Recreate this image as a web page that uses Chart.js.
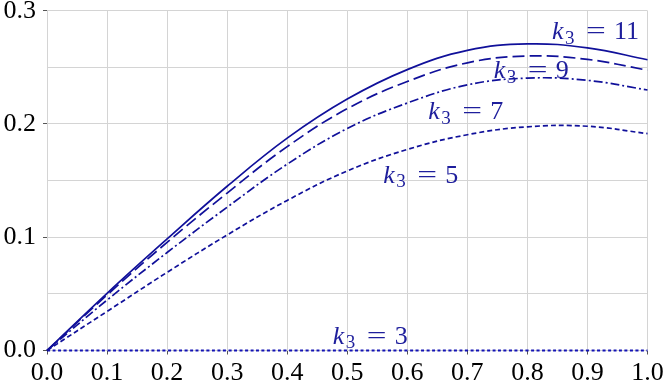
<!DOCTYPE html>
<html>
<head>
<meta charset="utf-8">
<script src="https://cdn.jsdelivr.net/npm/chart.js@4"></script>
<style>
  html, body { margin: 0; padding: 0; background: #fff; }
  canvas { display: block; }
</style>
</head>
<body>
<canvas id="grafica" width="664" height="384"></canvas>
<script>
// Datos
const xs = [0, 0.1, 0.2, 0.3, 0.4, 0.5, 0.6, 0.7, 0.8, 0.9, 1.0];
const k11 = [0, 0.0505, 0.0985, 0.1450, 0.1875, 0.2220, 0.2480, 0.2650, 0.2707, 0.2672, 0.2567];
const k9  = [0, 0.0490, 0.0955, 0.1390, 0.1800, 0.2135, 0.2375, 0.2540, 0.2600, 0.2570, 0.2475];
const k7  = [0, 0.0445, 0.0865, 0.1265, 0.1645, 0.1960, 0.2185, 0.2345, 0.2405, 0.2385, 0.2300];
const k5  = [0, 0.0345, 0.0690, 0.1020, 0.1325, 0.1585, 0.1775, 0.1905, 0.1975, 0.1980, 0.1915];
const k3  = [0, 0, 0, 0, 0, 0, 0, 0, 0, 0, 0];
const etiquetas = ['11', '9', '7', '5', '3'];

const azul = '#10109a';
const azulTexto = '#1e1e9c';
const fuente = 'Liberation Serif';

function puntos(ys) {
    return xs.map((x, i) => ({ x: x, y: ys[i] }));
}

function esEtiqueta(v) {
    return Math.round(v * 100) % 10 === 0;
}

// Etiquetas k_3 = n sobre las curvas (posición en coordenadas de datos)
const anclas = [
    { x: 0.841, y: 0.2746 },
    { x: 0.744, y: 0.2404 },
    { x: 0.635, y: 0.2042 },
    { x: 0.560, y: 0.1483 },
    { x: 0.476, y: 0.0059 }
];

const pluginEtiquetas = {
    id: 'etiquetasK',
    afterDatasetsDraw(chart) {
        const ctx = chart.ctx;
        const sx = chart.scales.x, sy = chart.scales.y;
        ctx.save();
        ctx.fillStyle = azulTexto;
        ctx.textBaseline = 'alphabetic';
        ctx.textAlign = 'left';
        etiquetas.forEach((txt, i) => {
            const x0 = sx.getPixelForValue(anclas[i].x);
            const y0 = sy.getPixelForValue(anclas[i].y);
            ctx.font = 'italic 26px "' + fuente + '"';
            ctx.fillText('k', x0, y0);
            ctx.font = '19px "' + fuente + '"';
            ctx.fillText('3', x0 + 13, y0 + 4.5);
            ctx.save();
            ctx.translate(x0 + 34, y0);
            ctx.scale(1.35, 1);
            ctx.font = '26px "' + fuente + '"';
            ctx.fillText('=', 0, 0);
            ctx.restore();
            ctx.font = '26px "' + fuente + '"';
            ctx.fillText(txt, x0 + 62, y0);
        });
        ctx.restore();
    }
};

const series = [
    { data: k11, dash: [] },
    { data: k9, dash: [12, 5] },
    { data: k7, dash: [9, 3, 2, 3] },
    { data: k5, dash: [5, 3] },
    { data: k3, dash: [3, 2.5], color: '#1212b4', ancho: 2 }
];

new Chart(document.getElementById('grafica'), {
    type: 'line',
    data: {
        datasets: series.map(s => ({
            data: puntos(s.data),
            borderColor: s.color || azul,
            borderWidth: s.ancho || 1.7,
            borderDash: s.dash,
            borderCapStyle: 'butt',
            pointRadius: 0,
            tension: 0.4,
            fill: false,
            clip: false
        }))
    },
    options: {
        responsive: false,
        animation: false,
        devicePixelRatio: 1,
        layout: { padding: { top: 10.7, right: 16.5, left: 0, bottom: 0 } },
        plugins: { legend: { display: false }, tooltip: { enabled: false } },
        scales: {
            x: {
                type: 'linear',
                min: 0,
                max: 1,
                ticks: {
                    stepSize: 0.1,
                    autoSkip: false,
                    maxRotation: 0,
                    padding: 3,
                    color: '#000',
                    font: { family: fuente, size: 26 },
                    callback: v => v.toFixed(1)
                },
                grid: { color: '#d4d4d4', lineWidth: 1, tickLength: 4, tickColor: '#555' },
                border: { display: false },
                afterFit(s) { s.height = 33.5; s.paddingLeft = 0; s.paddingRight = 0; }
            },
            y: {
                min: 0,
                max: 0.3,
                ticks: {
                    stepSize: 0.05,
                    autoSkip: false,
                    padding: 7,
                    color: '#000',
                    font: { family: fuente, size: 26 },
                    callback: v => esEtiqueta(v) ? v.toFixed(1) : ''
                },
                grid: {
                    color: '#d4d4d4',
                    lineWidth: 1,
                    tickLength: 4,
                    tickColor: c => (c.tick && esEtiqueta(c.tick.value)) ? '#555' : 'rgba(0,0,0,0)'
                },
                border: { display: false },
                afterFit(s) { s.width = 47; s.paddingTop = 0; s.paddingBottom = 0; }
            }
        }
    },
    plugins: [pluginEtiquetas]
});
</script>
</body>
</html>
